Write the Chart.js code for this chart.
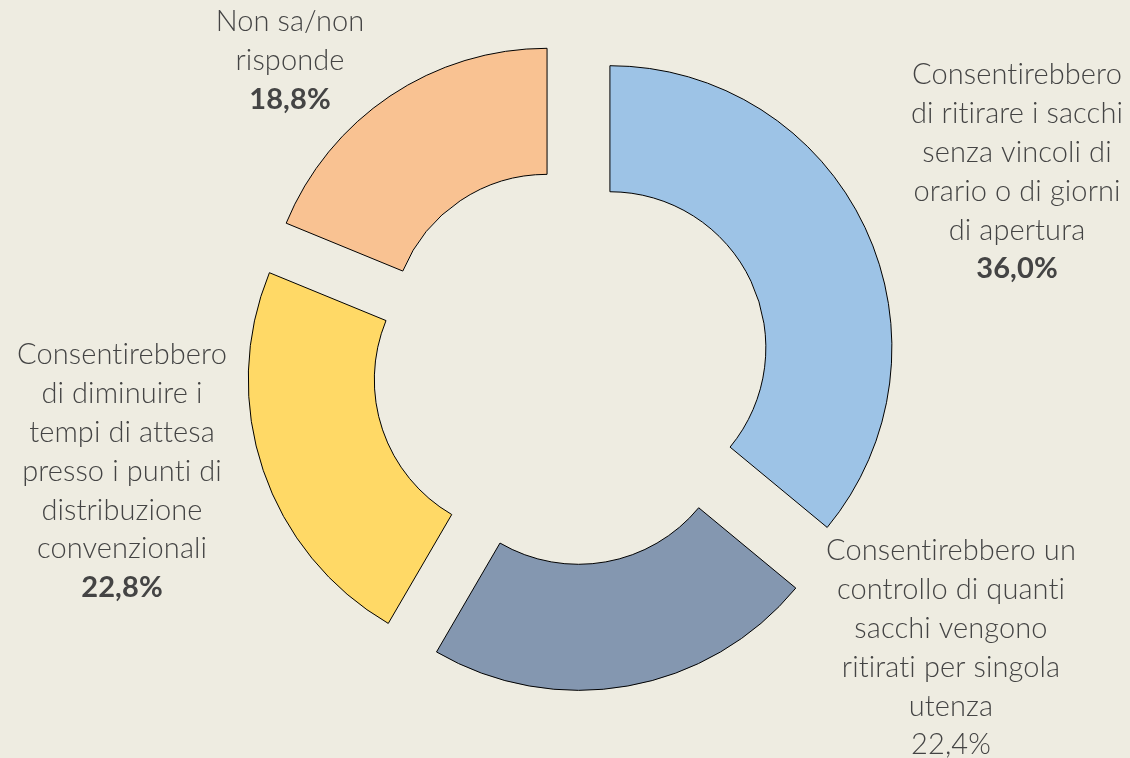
<!DOCTYPE html>
<html lang="it">
<head>
<meta charset="utf-8">
<title>Ritiro sacchi</title>
<script src="https://cdn.jsdelivr.net/npm/chart.js@4.4.1/dist/chart.umd.min.js"></script>
<style>
    html, body { margin: 0; padding: 0; background: #EEECE1; }
    canvas { display: block; }
</style>
</head>
<body>
<canvas id="donutChart" width="1130" height="758"></canvas>
<script>
// Categories (one entry per printed line of the label)
const categories = [
    ['Consentirebbero', 'di ritirare i sacchi', 'senza vincoli di', 'orario o di giorni', 'di apertura'],
    ['Consentirebbero un', 'controllo di quanti', 'sacchi vengono', 'ritirati per singola', 'utenza'],
    ['Consentirebbero', 'di diminuire i', 'tempi di attesa', 'presso i punti di', 'distribuzione', 'convenzionali'],
    ['Non sa/non', 'risponde']
];
// Percentages
const values = [36.0, 22.4, 22.8, 18.8];
const colors = ['#9DC3E6', '#8497B0', '#FFD966', '#F9C292'];

// label placement: [centre x, first line y], and whether the % is bold
const labelPos = [[1017, 75], [951, 551], [122, 355], [290, 22]];
const boldPct = [true, false, true, true];
const lineHeight = 38.8;
const explode = 43; // px each slice is pulled out

function formatPct(v) {
    return v.toFixed(1).replace('.', ',') + '%';
}

// Pull every slice out along its middle angle by the same distance.
// (chart.js's own offset option also grows the radius of wide slices)
const explodeSlices = {
    id: 'explodeSlices',
    afterDatasetUpdate(chart, args) {
        const meta = chart.getDatasetMeta(args.index);
        meta.data.forEach(arc => {
            const mid = (arc.startAngle + arc.endAngle) / 2;
            arc.x += Math.cos(mid) * explode;
            arc.y += Math.sin(mid) * explode;
        });
    }
};

// Draw the multi-line labels next to each slice
const sliceLabels = {
    id: 'sliceLabels',
    afterDraw(chart) {
        const ctx = chart.ctx;
        ctx.save();
        ctx.fillStyle = '#444444';
        ctx.textAlign = 'center';
        ctx.textBaseline = 'middle';
        // a tiny letter spacing keeps Lato from joining "ti"
        if ('letterSpacing' in ctx) ctx.letterSpacing = '0.1px';
        categories.forEach((lines, i) => {
            const [x, y] = labelPos[i];
            ctx.font = '300 29px Lato';
            lines.forEach((line, j) => {
                ctx.fillText(line, x, y + j * lineHeight);
            });
            ctx.font = (boldPct[i] ? 'bold ' : '300 ') + '29px Lato';
            ctx.fillText(formatPct(values[i]), x, y + lines.length * lineHeight);
        });
        ctx.restore();
    }
};

const ctx = document.getElementById('donutChart').getContext('2d');
new Chart(ctx, {
    type: 'doughnut',
    data: {
        labels: categories.map(l => l.join(' ')),
        datasets: [{
            data: values,
            backgroundColor: colors,
            borderColor: '#000000',
            borderWidth: 1
        }]
    },
    options: {
        responsive: false,
        animation: false,
        radius: 282,
        cutout: '55.3%',
        layout: {
            padding: { left: 12, right: 0, top: 0, bottom: 26 }
        },
        plugins: {
            legend: { display: false },
            tooltip: { enabled: false }
        },
        events: []
    },
    plugins: [explodeSlices, sliceLabels]
});
</script>
</body>
</html>
